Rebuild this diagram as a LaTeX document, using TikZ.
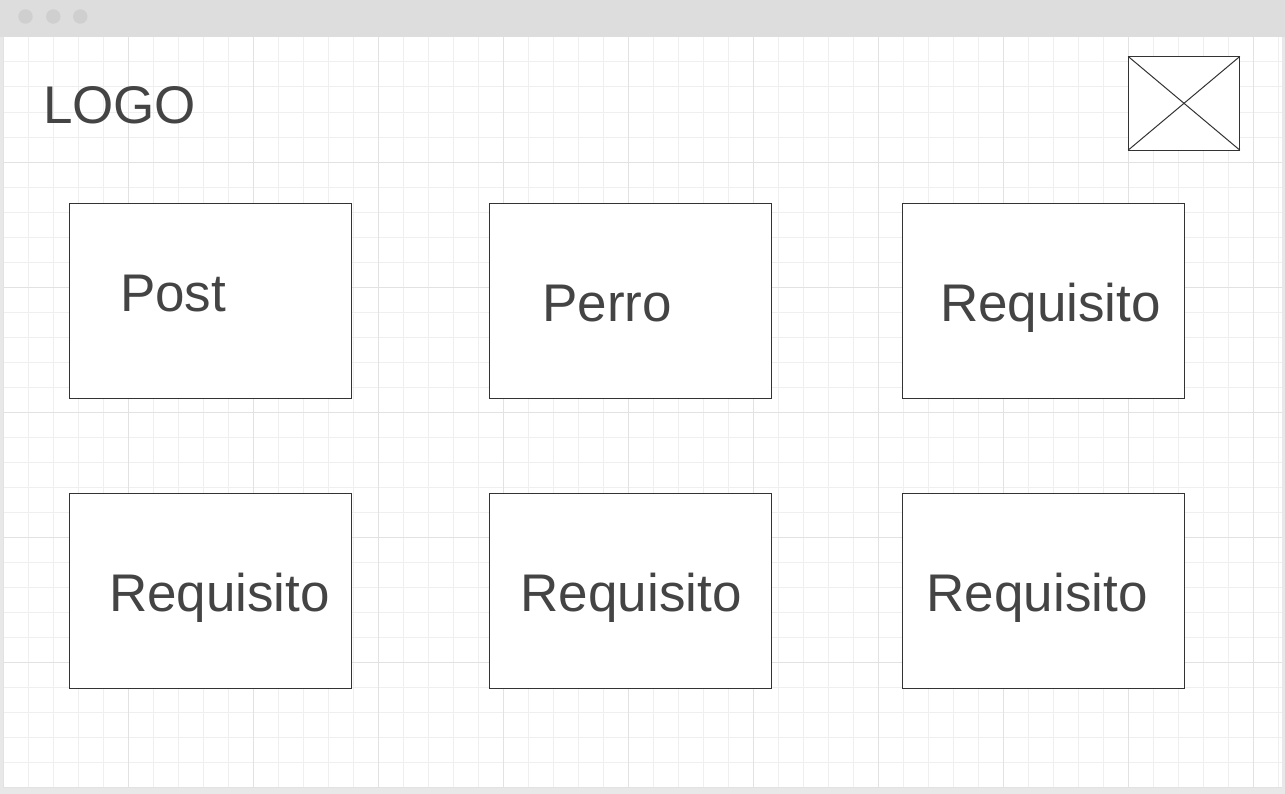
\documentclass[tikz,border=0pt]{standalone}
\usepackage{fontspec}
\setmainfont{Liberation Sans}
\definecolor{framegray}{HTML}{E8E8E8}
\definecolor{bargray}{HTML}{DDDDDD}
\definecolor{dotgray}{HTML}{CFCFCF}
\definecolor{gridminorc}{HTML}{EFEFEF}
\definecolor{gridmajorc}{HTML}{E2E2E2}
\definecolor{boxline}{HTML}{333333}
\definecolor{txtgray}{HTML}{444444}
\tikzset{
  gridminor/.style={draw=gridminorc, line width=1bp},
  gridmajor/.style={draw=gridmajorc, line width=1bp},
  card/.style={draw=boxline, line width=1bp, fill=white, rectangle, minimum width=283, minimum height=195.5, inner sep=0, outer sep=0},
  imgbox/.style={draw=boxline, line width=1bp, fill=white, rectangle, minimum width=112, minimum height=94, inner sep=0, outer sep=0},
  label/.style={text=txtgray, anchor=base west, inner sep=0, outer sep=0, font=\fontsize{53bp}{60bp}\selectfont},
  windot/.style={fill=dotgray, draw=none, circle, minimum size=14.5, inner sep=0},
}
\begin{document}
\begin{tikzpicture}[x=1bp, y=-1bp]
\useasboundingbox (0,0) rectangle (1285,794);
% frame
\fill[framegray] (0,0) rectangle (1285,794);
\fill[white] (3,37) rectangle (1282,787);
% grid
\foreach \i in {0,...,51} \draw[gridminor] ({3+25*\i},37) -- ({3+25*\i},787);
\foreach \j in {0,...,30} \draw[gridminor] (3,{37+25*\j}) -- (1282,{37+25*\j});
\foreach \i in {0,5,...,50} \draw[gridmajor] ({3+25*\i},37) -- ({3+25*\i},787);
\foreach \j in {0,5,...,30} \draw[gridmajor] (3,{37+25*\j}) -- (1282,{37+25*\j});
% top bar
\fill[bargray] (0,0) rectangle (1285,37);
\node[windot] (d1) at (25.5,16.5) {};
\node[windot] (d2) at (53.3,16.5) {};
\node[windot] (d3) at (80.3,16.5) {};
% logo
\node[label] (logo) at (43,123.5) {LOGO};
% image placeholder
\node[imgbox] (img) at (1184,103.3) {};
\draw[boxline, line width=1bp] (img.north west) -- (img.south east);
\draw[boxline, line width=1bp] (img.south west) -- (img.north east);
% cards
\node[card] (c11) at (210.5,301) {};
\node[card] (c12) at (630.5,301) {};
\node[card] (c13) at (1043.5,301) {};
\node[card] (c21) at (210.5,591) {};
\node[card] (c22) at (630.5,591) {};
\node[card] (c23) at (1043.5,591) {};
% labels
\node[label] (t11) at (120,311) {Post};
\node[label] (t12) at (542.5,321) {Perro};
\node[label] (t13) at (940,321) {Requisito};
\node[label] (t21) at (109,611.7) {Requisito};
\node[label] (t22) at (520.7,611.7) {Requisito};
\node[label] (t23) at (926.7,611.7) {Requisito};
\end{tikzpicture}
\end{document}
